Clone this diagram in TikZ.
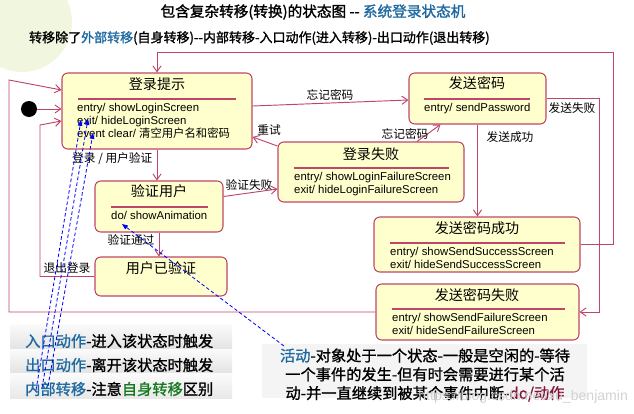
\documentclass[tikz,border=0pt]{standalone}
\usepackage{fontspec}
\setmainfont{Liberation Sans}
\newfontfamily\cjk{Noto Sans CJK SC}
\newfontfamily\cjkbold[FakeBold=1.5]{Noto Sans CJK SC}
\newfontfamily\cjknote[FakeBold=1.1]{Noto Sans CJK SC}
\usetikzlibrary{arrows.meta,fit}
\definecolor{statefill}{RGB}{255,255,205}
\definecolor{statedraw}{RGB}{190,70,105}
\definecolor{noteblue}{RGB}{30,105,160}
\definecolor{notegreen}{RGB}{20,120,30}
\definecolor{notered}{RGB}{130,20,60}
\definecolor{paleglow}{RGB}{241,247,222}
\tikzset{
  state/.style={draw=statedraw, fill=statefill, rounded corners=5pt, line width=0.9pt, inner sep=0pt},
  stitle/.style={font=\cjk\fontsize{12}{14}\selectfont, inner sep=0pt},
  sbody/.style={font=\fontsize{9.7}{11}\selectfont, align=left, anchor=north west, inner sep=0pt},
  sline/.style={statedraw, line width=0.9pt},
  trans/.style={statedraw, line width=0.8pt, -{Straight Barb[length=5pt,width=7pt]}},
  tlabel/.style={font=\cjk\fontsize{10}{12}\selectfont, inner sep=0pt},
  note/.style={blue, densely dashed, line width=0.7pt, -{Triangle[length=5pt,width=4pt]}},
  legend/.style={font=\cjknote\fontsize{13}{16}\selectfont, inner sep=0pt},
}

\begin{document}
\begin{tikzpicture}[x=0.03cm, y=-0.03cm]
  \useasboundingbox (0,0) rectangle (634,413);
  \begin{scope}
    \clip (0,0) rectangle (634,413);
    \fill[paleglow] (22,22) circle (50);
  \end{scope}

  \node[font=\cjkbold\fontsize{12.5}{15}\selectfont] (title) at (313,12)
    {包含复杂转移(转换)的状态图 -- \textcolor{noteblue}{系统登录状态机}};
  \node[font=\cjkbold\fontsize{11.1}{14}\selectfont, anchor=west] (subtitle) at (25,38)
    {转移除了\textcolor{noteblue}{外部转移}(自身转移)--内部转移-入口动作(进入转移)-出口动作(退出转移)};

  % states
  \node[state, fit={(62,73) (252,149)}] (prompt) {};
  \node[stitle] (prompttitle) at (157,84) {登录提示};
  \draw[sline] (78,99) -- (236,99);
  \node[sbody] (promptbody) at (77,103) {entry/ showLoginScreen\\exit/ hideLoginScreen\\event clear/ {\cjk 清空用户名和密码}};

  \node[state, fit={(95,181) (223,232)}] (verify) {};
  \node[stitle] (verifytitle) at (159,191) {验证用户};
  \draw[sline] (111,207) -- (208,207);
  \node[sbody] (verifybody) at (111,211) {do/ showAnimation};

  \node[state, fit={(95,257) (227,296)}] (authed) {};
  \node[stitle] (authedtitle) at (161,268) {用户已验证};

  \node[state, fit={(278,142) (464,202)}] (loginfail) {};
  \node[stitle] (loginfailtitle) at (371,154) {登录失败};
  \draw[sline] (294,168) -- (449,168);
  \node[sbody] (loginfailbody) at (294,172) {entry/ showLoginFailureScreen\\exit/ hideLoginFailureScreen};

  \node[state, fit={(409,73) (546,124)}] (sendpw) {};
  \node[stitle] (sendpwtitle) at (477,83) {发送密码};
  \draw[sline] (424,99) -- (530,99);
  \node[sbody] (sendpwbody) at (424,103) {entry/ sendPassword};

  \node[state, fit={(374,217) (580,272)}] (sendok) {};
  \node[stitle] (sendoktitle) at (477,228) {发送密码成功};
  \draw[sline] (390,243) -- (565,243);
  \node[sbody] (sendokbody) at (390,247) {entry/ showSendSuccessScreen\\exit/ hideSendSuccessScreen};

  \node[state, fit={(376,284) (579,340)}] (sendfail) {};
  \node[stitle] (sendfailtitle) at (477,295) {发送密码失败};
  \draw[sline] (392,309) -- (565,309);
  \node[sbody] (sendfailbody) at (392,313) {entry/ showSendFailureScreen\\exit/ hideSendFailureScreen};

  \node[circle, fill=black, minimum size=0.48cm, inner sep=0pt] (init) at (29,109) {};

  % transitions
  \coordinate (toprail) at (613,52);
  \coordinate (failrail) at (599,98.5);
  \coordinate (exitrail) at (40,125);
  \coordinate (outerrail) at (9,80);

  \draw[trans] (init) -- (init -| prompt.west);
  \draw[trans] (sendok.east) -| (toprail) -| (prompt.north);
  \draw[trans] (sendpw.east) -- (failrail) |- (sendfail.east);
  \draw[trans] (sendpw.south) -- (sendpw.south |- sendok.north);
  \draw[trans] ([shift={(0,-5)}]prompt.east) -- ([shift={(0,1.5)}]sendpw.west);
  \draw[trans] ([shift={(46,0)}]loginfail.north) -- ([shift={(-37,0)}]sendpw.south);
  \draw[trans] ([shift={(0,-26)}]loginfail.west) -- ([shift={(0,26)}]prompt.east);
  \draw[trans] ([shift={(0,-10)}]verify.east) -- ([shift={(0,17)}]loginfail.west);
  \draw[trans] (prompt.south) -- (prompt.south |- verify.north);
  \draw[trans] (verify.south) -- (verify.south |- authed.north);
  \draw[trans] (authed.west) -| (exitrail) -- ([shift={(0,10)}]prompt.west);
  \draw[trans] (sendfail.west) -| (outerrail) -- ([shift={(0,-21)}]prompt.west);

  \node[tlabel] (lsendfail) at (572,108) {发送失败};
  \node[tlabel] (lsendok) at (510,137) {发送成功};
  \node[tlabel] (lforget) at (330,95) {忘记密码};
  \node[tlabel] (lforget2) at (405,134) {忘记密码};
  \node[tlabel] (lretry) at (269,130) {重试};
  \node[tlabel] (lverifyfail) at (249,185) {验证失败};
  \node[tlabel, anchor=west] (llogin) at (72,159) {登录 / 用户验证};
  \node[tlabel] (lverifyok) at (131,240) {验证通过};
  \node[tlabel] (llogout) at (67,268) {退出登录};

  % notes
  \shade[top color=gray!3, bottom color=gray!22] (10,324) rectangle (232,349);
  \shade[top color=gray!3, bottom color=gray!22] (10,349) rectangle (232,373);
  \shade[top color=gray!3, bottom color=gray!18] (10,373) rectangle (232,398);
  \node[legend, anchor=west] (lentry) at (25,341) {\textcolor{noteblue}{入口动作}-进入该状态时触发};
  \node[legend, anchor=west] (lexit) at (25,365) {\textcolor{noteblue}{出口动作}-离开该状态时触发};
  \node[legend, anchor=west] (linternal) at (25,389) {\textcolor{noteblue}{内部转移}-注意\textcolor{notegreen}{自身转移}区别};

  \fill[gray!9] (262,344) rectangle (587,398);
  \node[legend, align=center] (lactivity) at (425,375)
    {\textcolor{noteblue}{活动}-对象处于一个状态-一般是空闲的-等待\\一个事件的发生-但有时会需要进行某个活\\动-并一直继续到被某个事件中断-\textcolor{notered}{do/动作}};
  \node[font=\fontsize{12}{14}\selectfont, text=gray!35, anchor=east] (mark) at (632,397) {https://blog.csdn.net/xu\_benjamin};

  \coordinate (entryfrom) at (36,390);
  \coordinate (exitfrom) at (42,388);
  \coordinate (internalfrom) at (48,386);
  \coordinate (entryto) at (81,120);
  \coordinate (exitto) at (88,119);
  \coordinate (internalto) at (93,133);
  \coordinate (activityfrom) at (284,346);
  \coordinate (activityto) at (122,224);
  \draw[note] (entryfrom) -- (entryto);
  \draw[note] (exitfrom) -- (exitto);
  \draw[note] (internalfrom) -- (internalto);
  \draw[note] (activityfrom) -- (activityto);
\end{tikzpicture}
\end{document}
